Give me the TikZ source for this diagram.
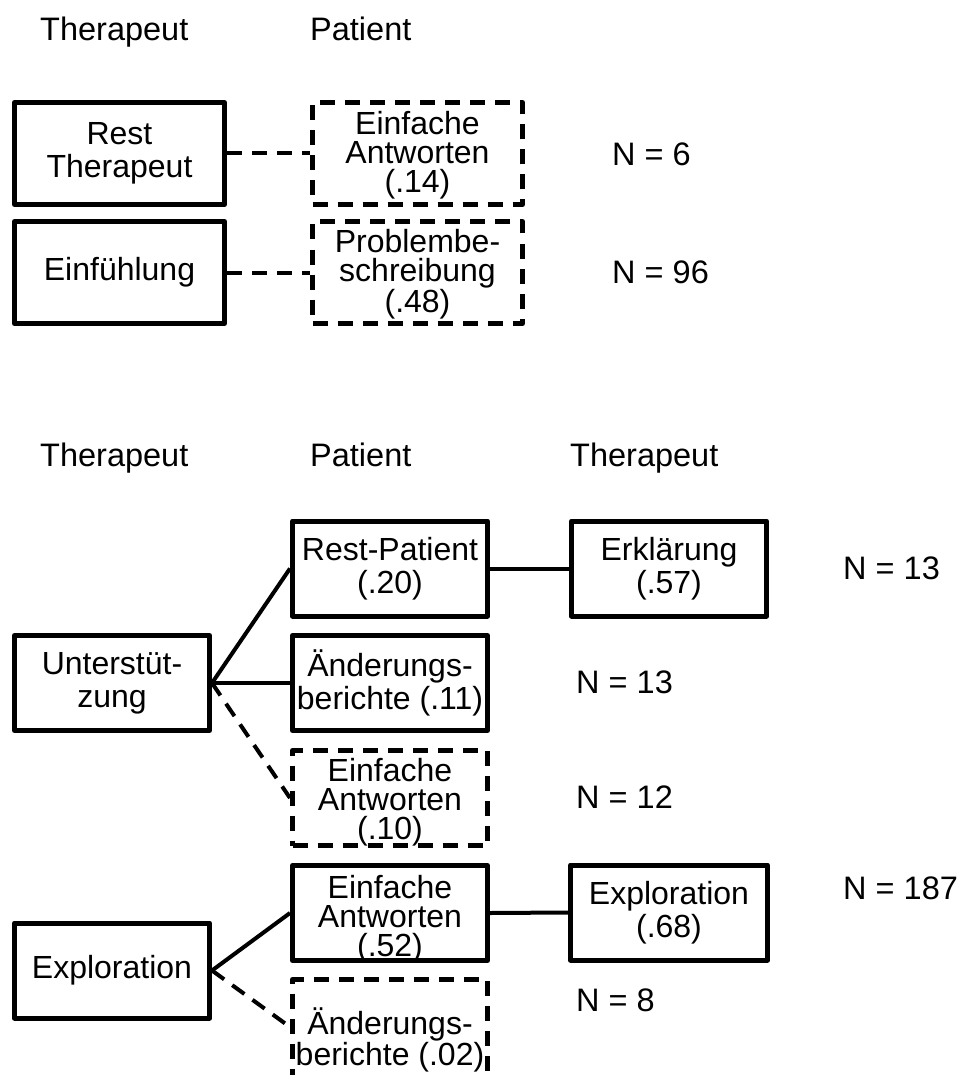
\documentclass[tikz,border=0pt]{standalone}
\usepackage{fontspec}
\setmainfont{Liberation Sans}
\begin{document}
\begin{tikzpicture}[x=1pt,y=-1pt,
  txt/.style={font=\fontsize{32.5pt}{28pt}\selectfont, inner sep=0pt},
  threeline/.style={align=center, inner sep=0pt, font=\fontsize{32pt}{29pt}\selectfont},
  topbox/.style={draw, line width=5pt, line join=round, minimum width=210pt, minimum height=102pt,
    inner sep=0pt, align=center, font=\fontsize{32pt}{33pt}\selectfont},
  botbox/.style={draw, line width=5pt, line join=round, minimum width=195pt, minimum height=95pt,
    inner sep=0pt, align=center, font=\fontsize{32pt}{33pt}\selectfont},
  dbox/.style={dash pattern=on 15pt off 10pt},
  conn/.style={line width=4pt},
  dconn/.style={line width=4pt, dash pattern=on 15pt off 10pt}]
\useasboundingbox (0,0) rectangle (968,1075);
\clip (0,0) rectangle (968,1075);
% headers
\node[txt, anchor=base west] (h1) at (40,41) {Therapeut};
\node[txt, anchor=base west] (h2) at (310,41) {Patient};
\node[txt, anchor=base west] (h3) at (40,466) {Therapeut};
\node[txt, anchor=base west] (h4) at (310,466) {Patient};
\node[txt, anchor=base west] (h5) at (570,466) {Therapeut};
% top part
\node[topbox] (rt) at (119.5,153.5) {Rest\\Therapeut};
\node[topbox] (ef) at (119.5,272.5) {Einfühlung};
\node[topbox, dbox] (ea1) at (417.5,153.5) {};
\node[threeline] (ea1t) at ([yshift=-2pt]ea1.center) {Einfache\\Antworten\\(.14)};
\node[topbox, dbox] (pb) at (417.5,272.5) {};
\node[threeline] (pbt) at ([yshift=-2pt]pb.center) {Problembe-\\schreibung\\(.48)};
\draw[dconn] (rt.east) -- (ea1.west);
\draw[dconn] (ef.east) -- (pb.west);
\node[txt, anchor=base west] (n1) at (612,166) {N = 6};
\node[txt, anchor=base west] (n2) at (612,283) {N = 96};
% bottom part
\node[botbox] (us) at (112,683) {Unterstüt-\\zung};
\node[botbox] (ex) at (112,970.5) {Exploration};
\node[botbox] (rp) at (390,568.5) {Rest-Patient\\(.20)};
\node[botbox] (ab1) at (390,683) {Änderungs-\\berichte (.11)};
\node[botbox, dbox] (ea2) at (390,798) {};
\node[threeline] (ea2t) at ([yshift=-4pt]ea2.center) {Einfache\\Antworten\\(.10)};
\node[botbox] (ea3) at (390,913) {};
\node[threeline] (ea3t) at ([yshift=-6pt]ea3.center) {Einfache\\Antworten\\(.52)};
\node[botbox, dbox, minimum height=121pt, font=\fontsize{32pt}{31pt}\selectfont] (ab2) at (390,1040) {Änderungs-\\berichte (.02)};
\node[botbox] (er) at (669,568.5) {Erklärung\\(.57)};
\node[botbox, minimum width=197pt] (ex2) at (669,912.5) {Exploration\\(.68)};
\draw[conn] (us.east) -- (rp.west);
\draw[conn] (us.east) -- (ab1.west);
\draw[dconn] (us.east) -- (ea2.west);
\draw[conn] (rp.east) -- (er.west);
\draw[conn] (ex.east) -- (ea3.west);
\draw[dconn] (ex.east) -- ([yshift=-50pt]ab2.north west);
\draw[conn] (ea3.east) -- (ex2.west);
\node[txt, anchor=base west] (n3) at (843,579) {N = 13};
\node[txt, anchor=base west] (n4) at (576,693) {N = 13};
\node[txt, anchor=base west] (n5) at (576,808) {N = 12};
\node[txt, anchor=base west] (n6) at (843,899) {N = 187};
\node[txt, anchor=base west] (n7) at (576,1011) {N = 8};
\end{tikzpicture}
\end{document}
